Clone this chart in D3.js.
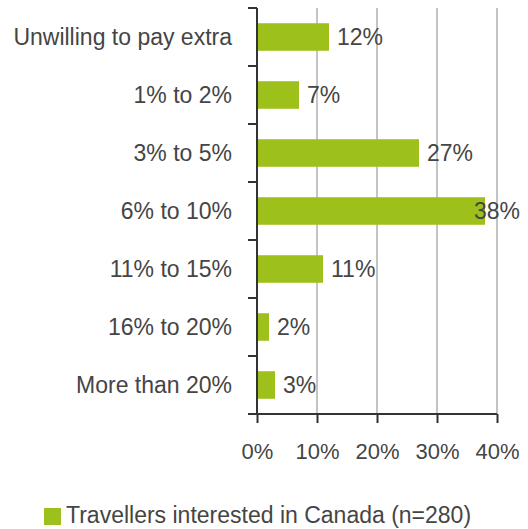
<!DOCTYPE html>
<html>
<head>
<meta charset="utf-8">
<script src="https://cdn.jsdelivr.net/npm/d3@7"></script>
<style>
  html, body { margin: 0; padding: 0; background: #fff; }
  svg { display: block; }
  text { font-family: "Liberation Sans", Arial, Helvetica, sans-serif; fill: #454545; }
</style>
</head>
<body>
<svg id="chart" width="528" height="529"></svg>
<script>
// Share of travellers willing to pay extra, by premium band
const categories = [
  "Unwilling to pay extra",
  "1% to 2%",
  "3% to 5%",
  "6% to 10%",
  "11% to 15%",
  "16% to 20%",
  "More than 20%"
];
const values = [12, 7, 27, 38, 11, 2, 3];
const xTicks = [0, 10, 20, 30, 40];
const seriesName = "Travellers interested in Canada (n=280)";

const barColor = "#9dc01a";
const gridColor = "#c4c4c4";
const axisColor = "#333333";
const fontSize = 23;
const tickFontSize = 22;

const svg = d3.select("#chart");

const plotLeft = 257, plotRight = 497, plotTop = 8, plotBottom = 414;

const x = d3.scaleLinear().domain([0, 40]).range([plotLeft, plotRight]);
const y = d3.scaleBand()
  .domain(categories)
  .range([plotTop, plotBottom])
  .paddingInner(0.525)
  .paddingOuter(0.2625);

// vertical gridlines
svg.append("g")
  .selectAll("line")
  .data(xTicks.slice(1))
  .join("line")
  .attr("x1", d => x(d)).attr("x2", d => x(d))
  .attr("y1", plotTop).attr("y2", plotBottom)
  .attr("stroke", gridColor)
  .attr("stroke-width", 2);

// bars
svg.append("g")
  .selectAll("rect")
  .data(values)
  .join("rect")
  .attr("x", x(0))
  .attr("y", (d, i) => y(categories[i]))
  .attr("width", d => x(d) - x(0))
  .attr("height", y.bandwidth())
  .attr("fill", barColor);

// y axis line and ticks at category boundaries
const yAxis = svg.append("g");
const boundaries = d3.range(categories.length + 1)
  .map(i => plotTop + i * y.step());
yAxis.append("line")
  .attr("x1", x(0)).attr("x2", x(0))
  .attr("y1", plotTop).attr("y2", plotBottom)
  .attr("stroke", axisColor).attr("stroke-width", 2);
yAxis.selectAll("line.tick")
  .data(boundaries.slice(0, -1))
  .join("line")
  .attr("class", "tick")
  .attr("x1", x(0) - 9).attr("x2", x(0))
  .attr("y1", d => d).attr("y2", d => d)
  .attr("stroke", axisColor).attr("stroke-width", 2);

// category labels
svg.append("g")
  .selectAll("text")
  .data(categories)
  .join("text")
  .attr("x", 232)
  .attr("y", d => y(d) + y.bandwidth() / 2)
  .attr("dy", "0.36em")
  .attr("text-anchor", "end")
  .style("font-size", fontSize + "px")
  .text(d => d);

// x axis
const xAxis = d3.axisBottom(x)
  .tickValues(xTicks)
  .tickSize(9)
  .tickPadding(20)
  .tickFormat(d => d + "%");
const gx = svg.append("g")
  .attr("transform", `translate(0,${plotBottom})`)
  .call(xAxis);
gx.select(".domain").remove();
gx.append("line")
  .attr("x1", x(0) - 9).attr("x2", x(40))
  .attr("y1", 0).attr("y2", 0)
  .attr("stroke", axisColor).attr("stroke-width", 2);
gx.selectAll(".tick line").attr("stroke", axisColor).attr("stroke-width", 2);
gx.selectAll(".tick text")
  .style("font-size", tickFontSize + "px")
  .style("font-family", "'Liberation Sans', Arial, Helvetica, sans-serif")
  .attr("fill", "#454545");

// value labels, kept inside the drawing area
const labelLimit = 520;
svg.append("g")
  .selectAll("text")
  .data(values)
  .join("text")
  .attr("y", (d, i) => y(categories[i]) + y.bandwidth() / 2)
  .attr("dy", "0.36em")
  .style("font-size", fontSize + "px")
  .text(d => d + "%")
  .attr("x", function (d) {
    const w = this.getComputedTextLength();
    return Math.min(x(d) + 8, labelLimit - w);
  });

// legend
const legend = svg.append("g").attr("transform", "translate(44,508)");
legend.append("rect")
  .attr("width", 17).attr("height", 17)
  .attr("fill", barColor);
legend.append("text")
  .attr("x", 22)
  .attr("y", 15)
  .style("font-size", fontSize + "px")
  .text(seriesName);
</script>
</body>
</html>
